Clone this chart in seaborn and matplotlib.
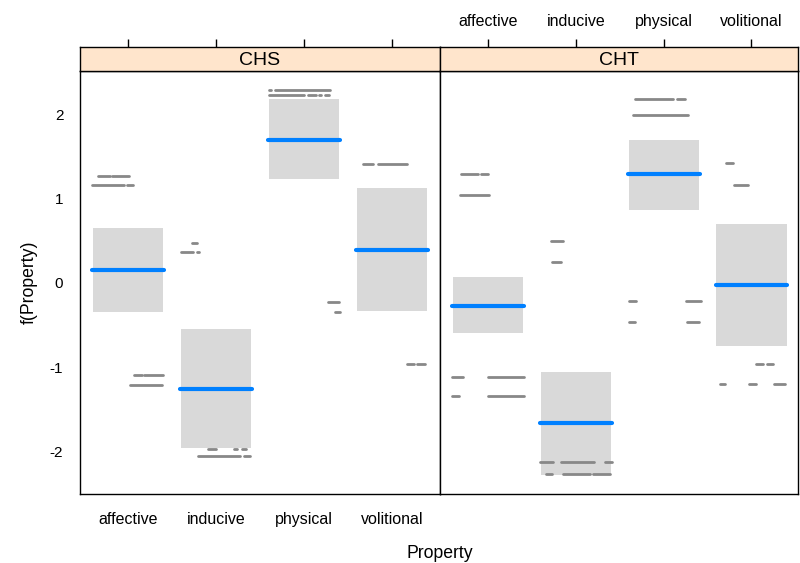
import numpy as np
import pandas as pd
import matplotlib.pyplot as plt
import seaborn as sns

sns.set_theme(style="white")
plt.rcParams['font.family'] = ['Liberation Sans', 'DejaVu Sans']
plt.rcParams['axes.unicode_minus'] = False

# ---- data ----
properties = ["affective", "inducive", "physical", "volitional"]
panels = ["CHS", "CHT"]

fit_chs = [0.15, -1.26, 1.70, 0.39]
lower_chs = [-0.34, -1.96, 1.23, -0.33]
upper_chs = [0.65, -0.55, 2.19, 1.13]

fit_cht = [-0.27, -1.67, 1.29, -0.03]
lower_cht = [-0.60, -2.29, 0.87, -0.75]
upper_cht = [0.07, -1.06, 1.70, 0.70]

# partial residual rows: (property index, y, [(x offset start, x offset end), ...])
resid_chs = [
    (0, 1.27, [(-0.41, -0.41), (-0.34, -0.21), (-0.18, 0.01)]),
    (0, 1.17, [(-0.41, -0.05), (-0.01, 0.05)]),
    (0, -1.10, [(0.07, 0.16), (0.18, 0.40)]),
    (0, -1.21, [(0.02, 0.38)]),
    (1, 0.48, [(-0.35, -0.35), (-0.28, -0.22)]),
    (1, 0.37, [(-0.40, -0.26), (-0.22, -0.19)]),
    (1, -1.97, [(-0.09, 0.0), (0.20, 0.24), (0.29, 0.34)]),
    (1, -2.06, [(-0.21, -0.05), (-0.03, 0.27), (0.32, 0.39)]),
    (2, 2.29, [(-0.40, -0.38), (-0.33, 0.30)]),
    (2, 2.23, [(-0.40, 0.0), (0.05, 0.14), (0.17, 0.19), (0.24, 0.29)]),
    (2, -0.23, [(0.27, 0.40)]),
    (2, -0.35, [(0.27, 0.27), (0.35, 0.41)]),
    (3, 1.42, [(-0.33, -0.21), (-0.16, 0.17)]),
    (3, 1.32, [(-0.36, -0.36), (-0.19, -0.19)]),
    (3, -0.96, [(0.17, 0.25), (0.29, 0.38)]),
    (3, -1.08, [(0.27, 0.27)]),
]
resid_cht = [
    (0, 1.29, [(-0.31, -0.12), (-0.08, 0.0)]),
    (0, 1.04, [(-0.32, 0.01)]),
    (0, -1.12, [(-0.41, -0.29), (0.0, 0.41)]),
    (0, -1.34, [(-0.41, -0.33), (0.0, 0.41)]),
    (1, 0.50, [(-0.28, -0.15)]),
    (1, 0.25, [(-0.27, -0.17)]),
    (1, -2.13, [(-0.41, -0.26), (-0.17, 0.21), (0.29, 0.29), (0.33, 0.41)]),
    (1, -2.27, [(-0.34, -0.27), (-0.15, 0.16), (0.19, 0.39)]),
    (2, 2.19, [(-0.33, 0.10), (0.15, 0.24)]),
    (2, 2.00, [(-0.35, 0.28)]),
    (2, -0.21, [(-0.40, -0.32), (0.25, 0.42)]),
    (2, -0.47, [(-0.40, -0.33), (0.26, 0.40)]),
    (3, 1.43, [(-0.29, -0.21)]),
    (3, 1.17, [(-0.20, -0.04)]),
    (3, -0.97, [(0.05, 0.13), (0.18, 0.25)]),
    (3, -1.20, [(-0.36, -0.30), (-0.03, 0.05), (0.15, 0.15), (0.26, 0.38)]),
]

effects = pd.DataFrame({
    "panel": np.repeat(panels, len(properties)),
    "Property": properties * 2,
    "fit": fit_chs + fit_cht,
    "lower": lower_chs + lower_cht,
    "upper": upper_chs + upper_cht,
})
effects["x"] = np.tile(np.arange(1, len(properties) + 1), 2)

resid = {"CHS": resid_chs, "CHT": resid_cht}

fig = plt.figure(figsize=(8, 5.63), dpi=100)
H = 563
panel_bottom = 1 - 494 / H
panel_h = 423 / H
strip_bottom = 1 - 71 / H
strip_h = 24 / H
lefts = [80 / 800, 440 / 800]
widths = [360 / 800, 358 / 800]
xlims = [(0.45, 4.55), (0.45, 4.53)]

box_color = "#D9D9D9"
line_color = "#0080FF"
dot_color = "#888888"
tick_fs = 11.5

for i, panel in enumerate(panels):
    ax = fig.add_axes([lefts[i], panel_bottom, widths[i], panel_h])
    sub = effects[effects["panel"] == panel]

    for _, r in sub.iterrows():
        ax.fill_between([r["x"] - 0.4, r["x"] + 0.4], r["lower"], r["upper"],
                        color=box_color, lw=0, zorder=1)

    for k, y, segs in resid[panel]:
        for x0, x1 in segs:
            ax.plot([k + 1 + x0, k + 1 + x1], [y, y], color=dot_color, lw=2.0,
                    solid_capstyle="round", zorder=2)

    for _, r in sub.iterrows():
        ax.plot([r["x"] - 0.41, r["x"] + 0.41], [r["fit"], r["fit"]],
                color=line_color, lw=3, solid_capstyle="round", zorder=3)

    ax.set_xlim(*xlims[i])
    ax.set_ylim(-2.51, 2.52)
    ax.set_xticks(range(1, 5))
    ax.set_yticks([-2, -1, 0, 1, 2])
    for s in ax.spines.values():
        s.set_color("black")
        s.set_linewidth(1)
    ax.tick_params(axis="both", direction="out", length=6, width=1,
                   color="black", labelsize=tick_fs, labelcolor="black")
    if i == 0:
        ax.set_xticklabels(properties)
        ax.set_yticklabels(["-2", "-1", "0", "1", "2"])
        ax.tick_params(axis="x", pad=7)
        ax.tick_params(axis="y", pad=6, labelsize=11)
        ax.set_ylabel("f(Property)", fontsize=12.7, color="black", labelpad=9)
    else:
        ax.set_xticklabels([])
        ax.set_yticks([])
    ax.grid(False)

    # strip
    sax = fig.add_axes([lefts[i], strip_bottom, widths[i], strip_h])
    sax.set_facecolor("#FFE5CC")
    sax.set_xlim(*xlims[i])
    sax.set_ylim(0, 1)
    sax.set_yticks([])
    sax.set_xticks(range(1, 5))
    sax.xaxis.set_ticks_position("top")
    sax.tick_params(axis="x", direction="out", length=6, width=1, color="black",
                    labelsize=tick_fs, labelcolor="black", pad=7)
    if i == 1:
        sax.set_xticklabels(properties)
    else:
        sax.set_xticklabels([])
    for s in sax.spines.values():
        s.set_color("black")
        s.set_linewidth(1)
    sax.text(0.5, 0.45, panel, transform=sax.transAxes, ha="center", va="center",
             fontsize=14, color="black")

fig.text(440 / 800, 1 - 553 / H, "Property", ha="center", va="center",
         fontsize=12.7, color="black")

fig.savefig("out.png", dpi=100)
